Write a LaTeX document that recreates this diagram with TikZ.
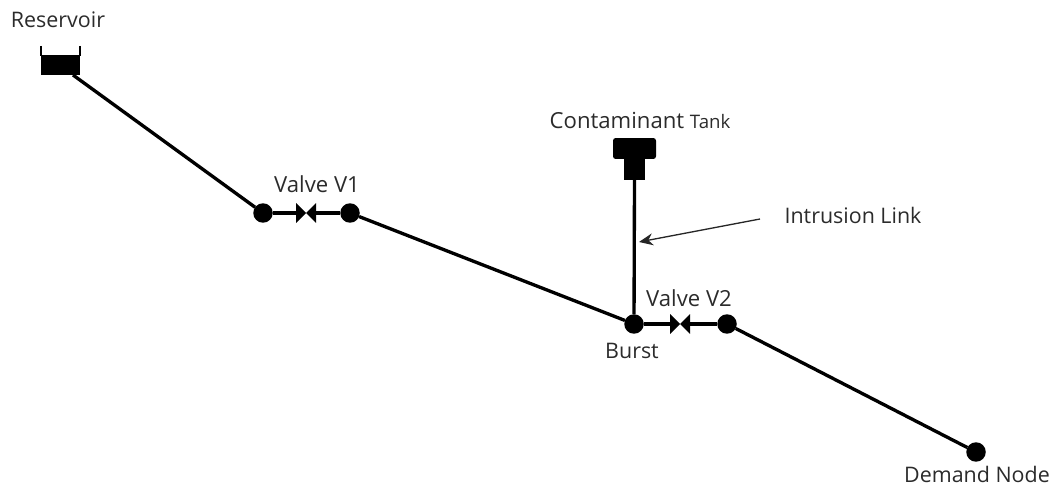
\documentclass[tikz,border=0pt]{standalone}
\usepackage{fontspec}
\setmainfont{Open Sans}
\usetikzlibrary{
  arrows.meta,
  calc,
  positioning
}
\definecolor{PipeBlack}{HTML}{000000}
\definecolor{LabelGray}{HTML}{2B2B2B}
\tikzset{
  every node/.style = {font=\fontsize{12.2}{14}\selectfont, text=LabelGray},
  wide label/.style = {font=\fontsize{12.6}{14}\selectfont},
  pipe/.style = {draw=PipeBlack, line width=1.9pt},
  junction/.style = {
    circle,
    fill=PipeBlack,
    inner sep=0pt,
    outer sep=0pt,
    minimum size=0.39cm
  },
  valve/.style = {
    inner sep=0pt,
    outer sep=0pt,
    minimum width=0.40cm,
    minimum height=0.40cm,
    path picture={
      \fill[PipeBlack] (path picture bounding box.north west) -- (path picture bounding box.south east)
        -- (path picture bounding box.north east) -- (path picture bounding box.south west) -- cycle;
    }
  },
  tank part/.style = {fill=PipeBlack, inner sep=0pt, outer sep=0pt},
  pointer/.style = {-{Stealth[length=2.8mm,width=2.4mm]}, draw=black!85, line width=0.75pt},
}
\begin{document}
\begin{tikzpicture}[x=0.02cm,y=-0.02cm]
  \useasboundingbox (0,0) rectangle (1055,486);

  \node[tank part, minimum width=0.78cm, minimum height=0.38cm] (reservoir) at (60.5,65.5) {};
  \coordinate (rimleft) at (41,46);
  \coordinate (rimright) at (80,46);
  \draw[draw=PipeBlack, line width=0.8pt] (rimleft) -- (rimleft|-reservoir.north);
  \draw[draw=PipeBlack, line width=0.8pt] (rimright) -- (rimright|-reservoir.north);
  \draw[draw=PipeBlack, line width=0.8pt] (reservoir.north west) -- (reservoir.north east);

  \node[junction] (jone) at (263,213) {};
  \node[junction] (jtwo) at (350,213) {};
  \node[junction] (burst) at (634,324) {};
  \node[junction] (jthree) at (727,324) {};
  \node[junction] (demand) at (976,452) {};

  \node[valve] (valveone) at (306,213) {};
  \node[valve] (valvetwo) at (680,324) {};

  \node[tank part, rounded corners=1.5pt, minimum width=0.86cm, minimum height=0.42cm] (tanktop) at (634.5,148.5) {};
  \node[tank part, minimum width=0.42cm, minimum height=0.42cm] (tankneck) at (634.5,169.5) {};

  \draw[pipe] (reservoir.south east) ++(-7,0) coordinate (resout) -- (jone);
  \draw[pipe] (jone) -- (valveone);
  \draw[pipe] (valveone) -- (jtwo);
  \draw[pipe] (jtwo) -- (burst);
  \draw[pipe] (burst) -- (valvetwo);
  \draw[pipe] (valvetwo) -- (jthree);
  \draw[pipe] (jthree) -- (demand);
  \draw[pipe] (tankneck.south) -- (burst);

  \node (reslabel) at (58,20) {Reservoir};
  \node[wide label] (vonelabel) at (317,184) {Valve V1};
  \node[wide label] (tanklabel) at (640,120) {Contaminant {\fontsize{10.6}{12}\selectfont Tank}};
  \node (linklabel) at (853,215) {Intrusion Link};
  \node[wide label] (vtwolabel) at (689,298) {Valve V2};
  \node (burstlabel) at (632,351) {Burst};
  \node (demandlabel) at (977,474) {Demand Node};

  \coordinate (linktail) at (760,219);
  \coordinate (linktip) at (639,242);
  \draw[pointer] (linktail) -- (linktip);
\end{tikzpicture}
\end{document}
